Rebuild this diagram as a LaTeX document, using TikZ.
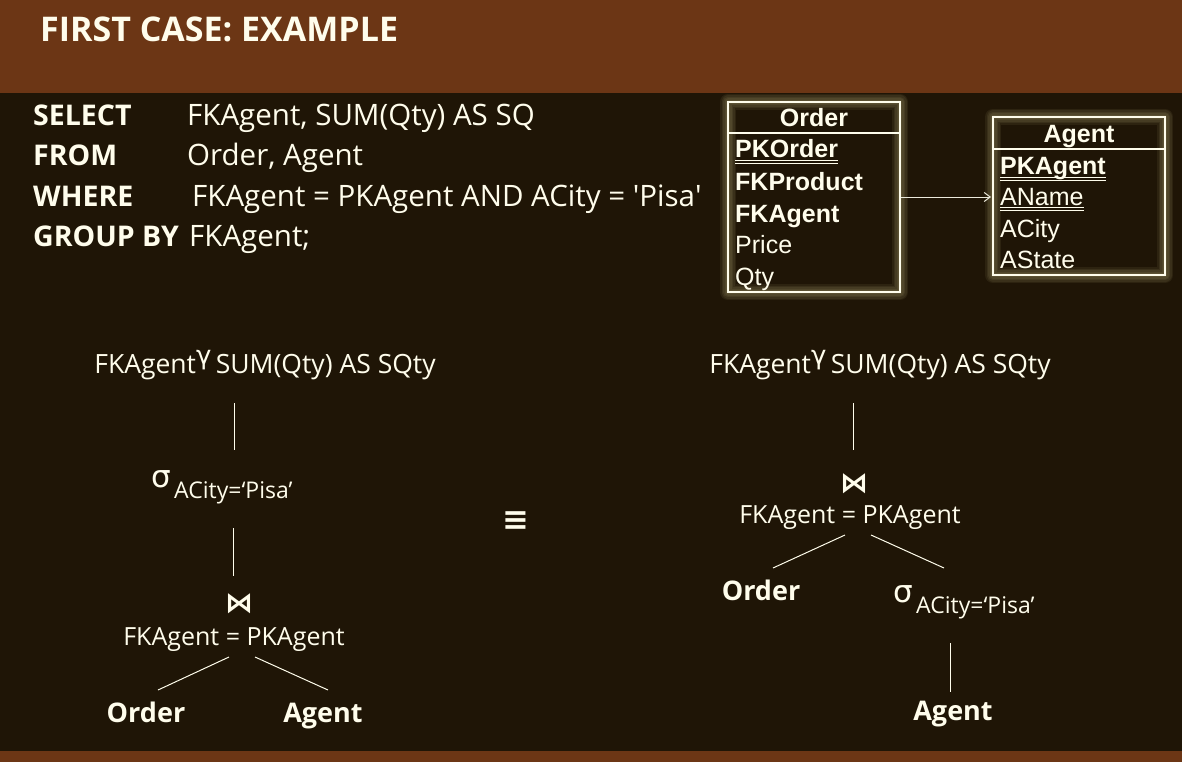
\documentclass[tikz,border=0pt]{standalone}
\usepackage{fontspec}
\setmainfont{Open Sans}
\newfontfamily\tabfont{Liberation Sans}
\newfontfamily\symfont{DejaVu Sans}
\usetikzlibrary{arrows.meta}
\definecolor{bg}{RGB}{31,21,6}
\definecolor{bar}{RGB}{108,54,21}
\definecolor{ink}{RGB}{255,253,236}
\definecolor{glowc}{RGB}{235,225,160}
\newcommand{\fs}[1]{\fontsize{#1}{#1}\selectfont}
\newcommand{\grp}{\raisebox{9pt}{\symfont\fs{26}γ}}
\begin{document}
\begin{tikzpicture}[x=1pt,y=-1pt,
  lbl/.style={inner sep=0pt, anchor=base west, text=ink},
  ctr/.style={inner sep=0pt, anchor=base, text=ink},
  sqlkw/.style={lbl, font=\fs{28.5}\bfseries},
  sqltx/.style={lbl, font=\fs{29.5}},
  treetx/.style={ctr, font=\fs{26.5}},
  jointx/.style={ctr, font=\fs{25}},
  subtx/.style={lbl, font=\fs{23}},
  sigma/.style={lbl, font=\symfont\fs{31}},
  bowtie/.style={ctr, font=\symfont\bfseries\fs{28}},
  rel/.style={ctr, font=\fs{27}\bfseries},
  tabhd/.style={ctr, font=\tabfont\fs{25}\bfseries},
  tabkey/.style={lbl, font=\tabfont\fs{25}\bfseries},
  tabatt/.style={lbl, font=\tabfont\fs{25}},
  edge/.style={draw=ink, line width=1pt},
  tabframe/.style={draw=ink, line width=1.4pt},
  glow/.style={draw=glowc, line width=#1, opacity=0.07, line join=round}
]
% background
\fill[bg] (0,0) rectangle (1182,762);
\fill[bar] (0,0) rectangle (1182,93);
\fill[bar] (0,751) rectangle (1182,762);
\useasboundingbox (0,0) rectangle (1182,762);

% title
\node[lbl, font=\fs{34}\bfseries] (title) at (40,42) {FIRST CASE: EXAMPLE};

% SQL
\node[sqlkw] (k1) at (33,126) {SELECT};
\node[sqlkw] (k2) at (33,166) {FROM};
\node[sqlkw] (k3) at (33,206) {WHERE};
\node[sqlkw] (k4) at (33,246) {GROUP BY};
\node[sqltx] (v1) at (187,126) {FKAgent, SUM(Qty) AS SQ};
\node[sqltx] (v2) at (187,166) {Order, Agent};
\node[sqltx] (v3) at (192,206) {FKAgent = PKAgent AND ACity = \textquotesingle Pisa\textquotesingle};
\node[sqltx] (v4) at (189,246) {FKAgent;};

% Order table
\foreach \w in {16,13,10,7,4} {\draw[glow=\w pt] (728,102) rectangle (900,292);}
\draw[tabframe] (728,102) rectangle (900,292);
\draw[edge, line width=1.2pt] (728,133) -- (900,133);
\node[tabhd] (oh) at (814,127) {Order};
\node[tabkey] (o1) at (735,158) {PKOrder};
\node[tabkey] (o2) at (735,190) {FKProduct};
\node[tabkey] (o3) at (735,222) {FKAgent};
\node[tabatt] (o4) at (735,253) {Price};
\node[tabatt] (o5) at (735,285) {Qty};
\draw[ink, line width=0.8pt] ([yshift=-2.5pt]o1.base west) -- ([yshift=-2.5pt]o1.base east);
\draw[ink, line width=0.8pt] ([yshift=-5pt]o1.base west) -- ([yshift=-5pt]o1.base east);

% Agent table
\foreach \w in {16,13,10,7,4} {\draw[glow=\w pt] (993,117) rectangle (1165,275);}
\draw[tabframe] (993,117) rectangle (1165,275);
\draw[edge, line width=1.2pt] (993,149) -- (1165,149);
\node[tabhd] (ah) at (1079,143) {Agent};
\node[tabkey] (a1) at (1000,175) {PKAgent};
\node[tabatt] (a2) at (1000,205) {AName};
\node[tabatt] (a3) at (1000,237) {ACity};
\node[tabatt] (a4) at (1000,268) {AState};
\draw[ink, line width=0.8pt] ([yshift=-2.5pt]a1.base west) -- ([yshift=-2.5pt]a1.base east);
\draw[ink, line width=0.8pt] ([yshift=-5pt]a1.base west) -- ([yshift=-5pt]a1.base east);
\draw[ink, line width=0.8pt] ([yshift=-2.5pt]a2.base west) -- ([yshift=-2.5pt]a2.base east);
\draw[ink, line width=0.8pt] ([yshift=-5pt]a2.base west) -- ([yshift=-5pt]a2.base east);

% FK arrow
\coordinate (fkA) at (901,197);
\coordinate (fkB) at (991,197);
\draw[draw=ink!85!gray, line width=1pt, -{Straight Barb[length=6pt,width=9pt]}] (fkA) -- (fkB);

% ---------- left tree
\node[treetx] (g1) at (265,373) {FKAgent\grp\,SUM(Qty) AS SQty};
\node[sigma] (s1) at (151,487) {σ};
\node[subtx] (s1sub) at (174,498) {ACity=‘Pisa’};
\node[bowtie] (b1) at (239,612) {⋈};
\node[jointx] (j1) at (234,645) {FKAgent = PKAgent};
\node[rel] (r1) at (146,722) {Order};
\node[rel] (r2) at (323,722) {Agent};
\coordinate (l1a) at (234,403); \coordinate (l1b) at (234,450);
\coordinate (l2a) at (233,528); \coordinate (l2b) at (233,576);
\coordinate (l3a) at (229,657); \coordinate (l3b) at (158,690);
\coordinate (l4a) at (255,657); \coordinate (l4b) at (328,690);
\draw[edge] (l1a) -- (l1b);
\draw[edge] (l2a) -- (l2b);
\draw[edge] (l3a) -- (l3b);
\draw[edge] (l4a) -- (l4b);

% equivalence
\node[ctr, font=\symfont\bfseries\fs{32}] (eq) at (516,530) {≡};

% ---------- right tree
\node[treetx] (g2) at (880,373) {FKAgent\grp\,SUM(Qty) AS SQty};
\node[bowtie] (b2) at (854,492) {⋈};
\node[jointx] (j2) at (850,523) {FKAgent = PKAgent};
\node[rel] (r3) at (761,600) {Order};
\node[sigma] (s2) at (893,602) {σ};
\node[subtx] (s2sub) at (916,613) {ACity=‘Pisa’};
\node[rel] (r4) at (953,720) {Agent};
\coordinate (m1a) at (853,403); \coordinate (m1b) at (853,450);
\coordinate (m2a) at (845,535); \coordinate (m2b) at (773,568);
\coordinate (m3a) at (871,535); \coordinate (m3b) at (944,568);
\coordinate (m4a) at (950,643); \coordinate (m4b) at (950,692);
\draw[edge] (m1a) -- (m1b);
\draw[edge] (m2a) -- (m2b);
\draw[edge] (m3a) -- (m3b);
\draw[edge] (m4a) -- (m4b);
\end{tikzpicture}
\end{document}
